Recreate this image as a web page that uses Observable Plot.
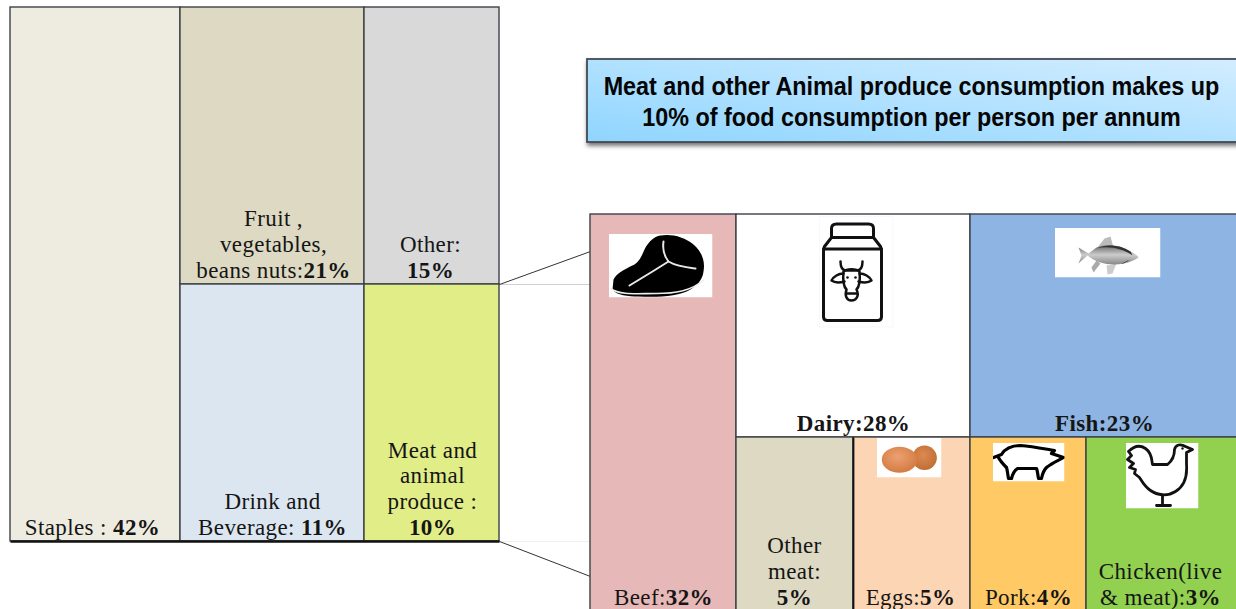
<!DOCTYPE html>
<html>
<head>
<meta charset="utf-8">
<script src="https://cdn.jsdelivr.net/npm/d3@7"></script>
<script src="https://cdn.jsdelivr.net/npm/@observablehq/plot@0.6"></script>
<style>
  html, body { margin: 0; padding: 0; background: #fff; }
  svg { display: block; }
</style>
</head>
<body>
<div id="chart"></div>
<script>
// ---------- chart data ----------
const foodNames  = ["Staples : ", "Fruit ,\nvegetables,\nbeans nuts:", "Other:\n", "Drink and\nBeverage: ", "Meat and\nanimal\nproduce :\n"];
const foodShares = [42, 21, 15, 11, 10];
const foodColors = ["#eeebe0", "#ddd9c3", "#d9d9d9", "#dce6f1", "#e1ed87"];

const meatNames  = ["Beef:", "Dairy:", "Fish:", "Other\nmeat:\n", "Eggs:", "Pork:", "Chicken(live\n& meat):"];
const meatShares = [32, 28, 23, 5, 5, 4, 3];
const meatColors = ["#e6b8b7", "#ffffff", "#8db4e2", "#ddd9c3", "#fcd5b4", "#ffc966", "#92d050"];
const boldNames  = ["Dairy:", "Fish:"];

const titleText = "Meat and other Animal produce consumption makes up\n10% of food consumption per person per annum";

// ---------- diagram layout, in the units of the picture ----------
const foodX = [10, 180, 364, 499], foodY = [7, 284, 541];
const meatX = [590, 736, 853, 970, 1086, 1238], meatY = [214, 437, 612];
const foodCells = [[0, 1, 0, 2], [1, 2, 0, 1], [2, 3, 0, 1], [1, 2, 1, 2], [2, 3, 1, 2]];
const meatCells = [[0, 1, 0, 2], [1, 3, 0, 1], [3, 5, 0, 1], [1, 2, 1, 2], [2, 3, 1, 2], [3, 4, 1, 2], [4, 5, 1, 2]];
const foodLabelX = [92, 273, 430, 272, 432];
const foodLabelY = [534, 277, 277, 534, 534];
const meatLabelX = [663, 853, 1104, 794, 910, 1028, 1160];
const meatLabelY = [604, 430, 430, 604, 604, 604, 604];

const cell = (xs, ys, names, shares, colors, labelX, labelY) => (c, i) => ({
  x1: xs[c[0]], x2: xs[c[1]], y1: ys[c[2]], y2: ys[c[3]],
  color: colors[i],
  label: boldNames.includes(names[i]) ? `|${names[i]}${shares[i]}%` : `${names[i]}|${shares[i]}%`,
  lx: labelX[i], ly: labelY[i]
});
const foodTable = foodCells.map(cell(foodX, foodY, foodNames, foodShares, foodColors, foodLabelX, foodLabelY));
const meatTable = meatCells.map(cell(meatX, meatY, meatNames, meatShares, meatColors, meatLabelX, meatLabelY));

const connectors = [
  {x1: 499, y1: 284, x2: 590, y2: 284, c: "#d0d0d0", w: 1},
  {x1: 499, y1: 541, x2: 590, y2: 541, c: "#efefef", w: 1},
  {x1: 499, y1: 284, x2: 590, y2: 251, c: "#333333", w: 1},
  {x1: 499, y1: 541, x2: 590, y2: 576, c: "#333333", w: 1}
];
const heavyRules = [
  {x1: 10, y1: 541, x2: 499, y2: 541, w: 2.4},
  {x1: 853, y1: 437, x2: 853, y2: 612, w: 1.8}
];
const titleBox = [{x1: 587, x2: 1240, y1: 59, y2: 142}];

// ---------- pictograms (drawn artwork, placed through the scales) ----------
const svgUrl = (w, h, body) => "data:image/svg+xml;utf8," + encodeURIComponent(
  `<svg xmlns="http://www.w3.org/2000/svg" width="${w}" height="${h}" viewBox="0 0 ${w} ${h}">${body}</svg>`);

const steak = svgUrl(104, 64, `<rect width="104" height="64" fill="#fff"/>
<path d="M5 46C8 40 14 37 26 31C32 27 34 20 37 14C41 8 45 3 52 2C62 0 76 3 85 11C93 18 97 27 95 38C94 47 88 52 82 56C70 63 50 64 30 63C20 63 8 62 4 56Z" fill="#000"/>
<path d="M2 55C12 62 28 60 48 60C66 60 82 58 96 46" fill="none" stroke="#eee" stroke-width="1.6"/>
<path d="M21 52L44 38L60 28M55 8C54 15 56 23 60 28C68 33 78 34 87 35" fill="none" stroke="#e8e8e8" stroke-width="2" stroke-linecap="round"/>`);

const milk = svgUrl(75, 112, `<rect x=".5" y=".5" width="74" height="111" fill="#fff" stroke="#f4f4f4"/>
<g fill="none" stroke="#111" stroke-width="3" stroke-linejoin="round" stroke-linecap="round">
<path d="M13 22V13Q13 8.500 18 8.500H50Q55 8.500 55 13V22Z"/>
<path d="M13 22L6 31Q5 33 5 36V101Q5 105 9 105H59Q63 105 63 101V36Q63 33 62 31L55 22"/>
<path d="M5 33.500H63"/>
<g stroke-width="2.500">
<path d="M22 46Q22 54 27 55H39Q44 54 44 46"/>
<path d="M25 56C24 66 26 72 28 74C26 80 28 85 33 85C38 85 41 80 38 74C40 72 42 66 41 56C38 53 28 53 25 56Z"/>
<path d="M25 58C20 58 15 61 13 65C17 68 22 67 26 66M41 58C46 58 51 61 53 65C49 68 44 67 40 66"/>
<path d="M28 78H38"/>
</g></g>
<circle cx="29" cy="62" r="1.300" fill="#111"/><circle cx="37" cy="62" r="1.300" fill="#111"/>`);

const fish = svgUrl(106, 50, `<defs><linearGradient id="f" x1="0" y1="0" x2="0" y2="1"><stop offset="0" stop-color="#666"/><stop offset=".5" stop-color="#ccc"/><stop offset="1" stop-color="#888"/></linearGradient></defs>
<rect width="106" height="50" fill="#fff"/>
<path d="M40 24L50 11L56 9L59 20Z" fill="#bbb"/>
<path d="M37 40L42 33L46 36L39 45Z" fill="#aaa"/><path d="M52 38L62 36L58 46L53 47Z" fill="#ccc"/>
<path d="M24 20L34 26L42 20C52 16 66 17 76 24C80 26 83 28 84 30C78 34 70 37 60 37C50 37 40 34 33 28L24 36L27 28Z" fill="url(#f)"/>
<path d="M42 21C52 16 66 17 76 24L78 28C68 21 54 18 42 21Z" fill="#333"/>
<path d="M68 36L74 33" stroke="#555" fill="none"/>`);

const eggs = svgUrl(65, 40, `<defs>
<radialGradient id="a" cx=".45" cy=".38" r=".7"><stop offset="0" stop-color="#eda071"/><stop offset="1" stop-color="#d0773c"/></radialGradient>
<radialGradient id="b" cx=".45" cy=".4" r=".7"><stop offset="0" stop-color="#dd8a52"/><stop offset="1" stop-color="#bb6a2f"/></radialGradient></defs>
<rect width="65" height="40" fill="#fff"/>
<ellipse cx="48" cy="20.300" rx="12.400" ry="12.200" fill="url(#b)"/>
<ellipse cx="23" cy="22.300" rx="17.700" ry="13" fill="url(#a)"/>`);

const pig = svgUrl(72, 39, `<rect width="72" height="39" fill="#fff"/>
<path d="M1 15L9 12C12 7 17 3 28 3C40 4 50 6 62 8L59 11L71 15C66 18 60 20 54 25C51 28 50 31 49 36H46C45 31 45 28 44 26H25C22 28 20 32 19 36H16C15 31 15 28 14 25C10 21 7 17 6 15" fill="none" stroke="#000" stroke-width="3.200" stroke-linejoin="round" stroke-linecap="round"/>`);

const chicken = svgUrl(73, 66, `<rect width="73" height="66" fill="#fff"/>
<path d="M3 9C8 4 14 2 20 6C27 11 26 18 27 22H42C47 18 49 12 49 7C50 2 55 1 60 4L67 7L61 10V22C62 35 58 44 50 49C42 54 32 53 25 48C19 44 16 38 14 35L9 31L10 27L4 25L8 21L2 17L6 13Z" fill="none" stroke="#111" stroke-width="2.800" stroke-linejoin="round"/>
<path d="M37 53V63M31 63H45" fill="none" stroke="#111" stroke-width="2.800" stroke-linecap="round"/>
<circle cx="57" cy="6" r="1.200" fill="#111"/>`);

const icons = [
  {src: steak,   x1: 608,  y1: 233, w: 104, h: 64},
  {src: milk,    x1: 818,  y1: 215, w: 75,  h: 112},
  {src: fish,    x1: 1054, y1: 227, w: 106, h: 50},
  {src: eggs,    x1: 876,  y1: 437, w: 65,  h: 40},
  {src: pig,     x1: 992,  y1: 442, w: 72,  h: 39},
  {src: chicken, x1: 1125, y1: 442, w: 73,  h: 66}
];

// ---------- chart ----------
const serif = "'Liberation Serif', 'Times New Roman', serif";
const boxes = (table) => Plot.rect(table, {
  x1: "x1", x2: "x2", y1: "y1", y2: "y2", fill: "color",
  stroke: "#3c4046", strokeWidth: 1.4
});
const labels = (table) => Plot.text(table, {
  x: "lx", y: "ly", text: "label", lineAnchor: "bottom", lineHeight: 1.11,
  fontFamily: serif, fontSize: 23, fill: "#151515"
});

const chart = Plot.plot({
  width: 1236, height: 609,
  marginTop: 0, marginRight: 0, marginBottom: 0, marginLeft: 0,
  x: {domain: [0, 1236], range: [0, 1236], axis: null},
  y: {domain: [0, 609], range: [0, 609], axis: null},
  color: {type: "identity"},
  style: {background: "#fff"},
  marks: [
    () => {
      const ns = "http://www.w3.org/2000/svg";
      const defs = document.createElementNS(ns, "defs");
      defs.innerHTML = `<linearGradient id="boxFill" x1="0" y1="1" x2="1" y2="0">
        <stop offset="0" stop-color="#8fd5ff"/><stop offset="1" stop-color="#d3edff"/></linearGradient>`;
      return defs;
    },
    Plot.link(connectors, {x1: "x1", y1: "y1", x2: "x2", y2: "y2", stroke: "c", strokeWidth: "w"}),
    boxes(foodTable),
    boxes(meatTable),
    Plot.link(heavyRules, {x1: "x1", y1: "y1", x2: "x2", y2: "y2", stroke: "#111", strokeWidth: "w"}),
    Plot.image(icons, {
      src: "src", x: d => d.x1 + d.w / 2, y: d => d.y1 + d.h / 2,
      width: "w", height: "h", preserveAspectRatio: "none"
    }),
    labels(foodTable),
    labels(meatTable),
    Plot.rect(titleBox, {
      x1: "x1", x2: "x2", y1: "y1", y2: "y2",
      fill: "url(#boxFill)", stroke: "#434a52", strokeWidth: 1.8
    }),
    Plot.text([titleText], {
      x: () => 911, y: () => 100, text: d => d, lineHeight: 1.24,
      fontFamily: "'Liberation Sans', Arial, sans-serif", fontWeight: "bold",
      fontSize: 25, fill: "#050505"
    })
  ]
});

// a bar in a label separates the plain name from the bold share
d3.select(chart).selectAll("text, tspan").each(function () {
  if (this.children.length || !this.textContent.includes("|")) return;
  const [plain, bold] = this.textContent.split("|");
  const node = d3.select(this);
  node.text(null);
  if (plain) node.append("tspan").text(plain);
  node.append("tspan").attr("font-weight", "bold").text(bold);
});
d3.select(chart).selectAll("text").each(function () {
  if (this.textContent.startsWith("Meat and other")) {
    const t = this.getAttribute("transform") || "";
    this.setAttribute("transform", `${t} scale(0.935,1)`);
  } else {
    this.style.letterSpacing = "0.4px";
  }
});
d3.select(chart).selectAll('[fill="url(#boxFill)"]')
  .style("filter", "drop-shadow(1px 3px 2px rgba(0,0,0,.55))");
d3.select(chart).selectAll("image").style("filter", "blur(0.4px)");

document.getElementById("chart").append(chart);
</script>
</body>
</html>
